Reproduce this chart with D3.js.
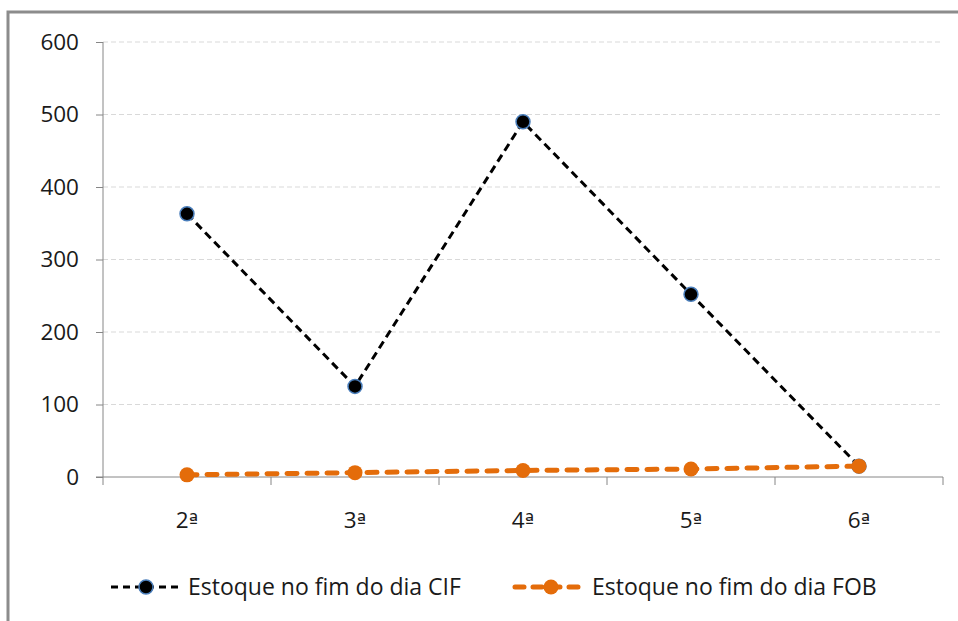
<!DOCTYPE html>
<html>
<head>
<meta charset="utf-8">
<script src="https://cdn.jsdelivr.net/npm/d3@7"></script>
<style>
  html, body { margin: 0; padding: 0; background: #fff; }
  svg { display: block; font-family: "Open Sans", "Noto Sans", sans-serif; }
</style>
</head>
<body>
<svg id="chart" width="958" height="621"></svg>
<script>
// Dias da semana (2ª a 6ª)
const categories = ["2ª", "3ª", "4ª", "5ª", "6ª"];
// Estoque no fim do dia, modalidade CIF
const cifValues = [363, 125, 490, 252, 15];
// Estoque no fim do dia, modalidade FOB
const fobValues = [3, 6, 9, 11, 15];
const yTicks = [0, 100, 200, 300, 400, 500, 600];
const seriesNames = ["Estoque no fim do dia CIF", "Estoque no fim do dia FOB"];

const svg = d3.select("#chart");
const W = 958, H = 621;
const plot = { left: 103, right: 943, top: 42, bottom: 477 };
const fontSize = "22.5px";
const textColor = "#1a1a1a";

// Moldura externa da área do gráfico
svg.append("rect")
  .attr("x", 8).attr("y", 12)
  .attr("width", W).attr("height", H)
  .attr("fill", "#fff")
  .attr("stroke", "#8c8c8c")
  .attr("stroke-width", 3);

const x = d3.scaleBand().domain(categories)
  .range([plot.left, plot.right]).paddingInner(0).paddingOuter(0);
const y = d3.scaleLinear().domain([0, 600]).range([plot.bottom, plot.top]);

// Linhas de grade horizontais
svg.append("g")
  .selectAll("line")
  .data(yTicks.filter(d => d > 0))
  .join("line")
  .attr("x1", plot.left).attr("x2", plot.right)
  .attr("y1", d => y(d)).attr("y2", d => y(d))
  .attr("stroke", "#d9d9d9")
  .attr("stroke-width", 1)
  .attr("stroke-dasharray", "5,3");

// Eixo Y
const yAxis = svg.append("g")
  .attr("transform", `translate(${plot.left},0)`)
  .call(d3.axisLeft(y).tickValues(yTicks).tickSize(7).tickPadding(17));
yAxis.attr("font-family", null).attr("font-size", null);
yAxis.select(".domain").attr("stroke", "#868686").attr("d", `M0,${plot.top}V${plot.bottom + 8}`);
yAxis.selectAll(".tick line").attr("stroke", "#868686");
yAxis.selectAll(".tick text")
  .attr("fill", textColor)
  .style("font-size", fontSize);

// Eixo X (marcas nos limites das categorias)
const xAxisG = svg.append("g");
xAxisG.append("line")
  .attr("x1", plot.left - 7).attr("x2", plot.right)
  .attr("y1", plot.bottom).attr("y2", plot.bottom)
  .attr("stroke", "#868686");
const bounds = categories.map(c => x(c) + x.bandwidth());
xAxisG.selectAll("line.tk")
  .data(bounds)
  .join("line")
  .attr("class", "tk")
  .attr("x1", d => d).attr("x2", d => d)
  .attr("y1", plot.bottom).attr("y2", plot.bottom + 8)
  .attr("stroke", "#868686");
const xLabels = xAxisG.selectAll("text")
  .data(categories)
  .join("text")
  .attr("x", d => x(d) + x.bandwidth() / 2)
  .attr("y", plot.bottom + 51)
  .attr("text-anchor", "middle")
  .attr("fill", textColor)
  .style("font-size", fontSize);
// número + indicador ordinal (glifo com traço inferior)
xLabels.append("tspan").text(d => d.slice(0, -1));
xLabels.append("tspan")
  .style("font-family", "'DejaVu Sans', sans-serif")
  .style("font-size", "20px")
  .text(d => d.slice(-1));

const cx = (d, i) => x(categories[i]) + x.bandwidth() / 2;
const line = d3.line().x((d, i) => cx(d, i)).y(d => y(d));

// Série CIF
svg.append("path")
  .datum(cifValues)
  .attr("d", line)
  .attr("fill", "none")
  .attr("stroke", "#000")
  .attr("stroke-width", 3)
  .attr("stroke-dasharray", "8,5");
svg.append("g").selectAll("circle")
  .data(cifValues)
  .join("circle")
  .attr("cx", cx).attr("cy", d => y(d))
  .attr("r", 7)
  .attr("fill", "#000")
  .attr("stroke", "#4a7ebb")
  .attr("stroke-width", 1.5);

// Série FOB
const orange = "#e46c0a";
svg.append("path")
  .datum(fobValues)
  .attr("d", line)
  .attr("fill", "none")
  .attr("stroke", orange)
  .attr("stroke-width", 5)
  .attr("stroke-linecap", "round")
  .attr("stroke-dasharray", "10,10");
svg.append("g").selectAll("circle")
  .data(fobValues)
  .join("circle")
  .attr("cx", cx).attr("cy", d => y(d))
  .attr("r", 7.5)
  .attr("fill", orange);

// Legenda
const legend = svg.append("g").attr("transform", "translate(0,587)");
const legendItems = [
  { name: seriesNames[0], x0: 111, color: "#000", width: 3, dash: "7,5", cap: "butt" },
  { name: seriesNames[1], x0: 515, color: orange, width: 5, dash: "9,9", cap: "round" }
];
legendItems.forEach((it, i) => {
  const g = legend.append("g").attr("transform", `translate(${it.x0},0)`);
  g.append("line")
    .attr("x1", 0).attr("x2", 70).attr("y1", 0).attr("y2", 0)
    .attr("stroke", it.color).attr("stroke-width", it.width)
    .attr("stroke-linecap", it.cap)
    .attr("stroke-dasharray", it.dash);
  if (i === 0) {
    g.append("circle").attr("cx", 35).attr("cy", 0).attr("r", 7)
      .attr("fill", "#000").attr("stroke", "#4a7ebb").attr("stroke-width", 1.5);
  } else {
    g.append("circle").attr("cx", 36).attr("cy", 0).attr("r", 7.5).attr("fill", orange);
  }
  g.append("text")
    .attr("x", 77).attr("y", 0)
    .attr("dy", "0.35em")
    .attr("fill", textColor)
    .style("font-size", "23px")
    .text(it.name);
});
</script>
</body>
</html>
